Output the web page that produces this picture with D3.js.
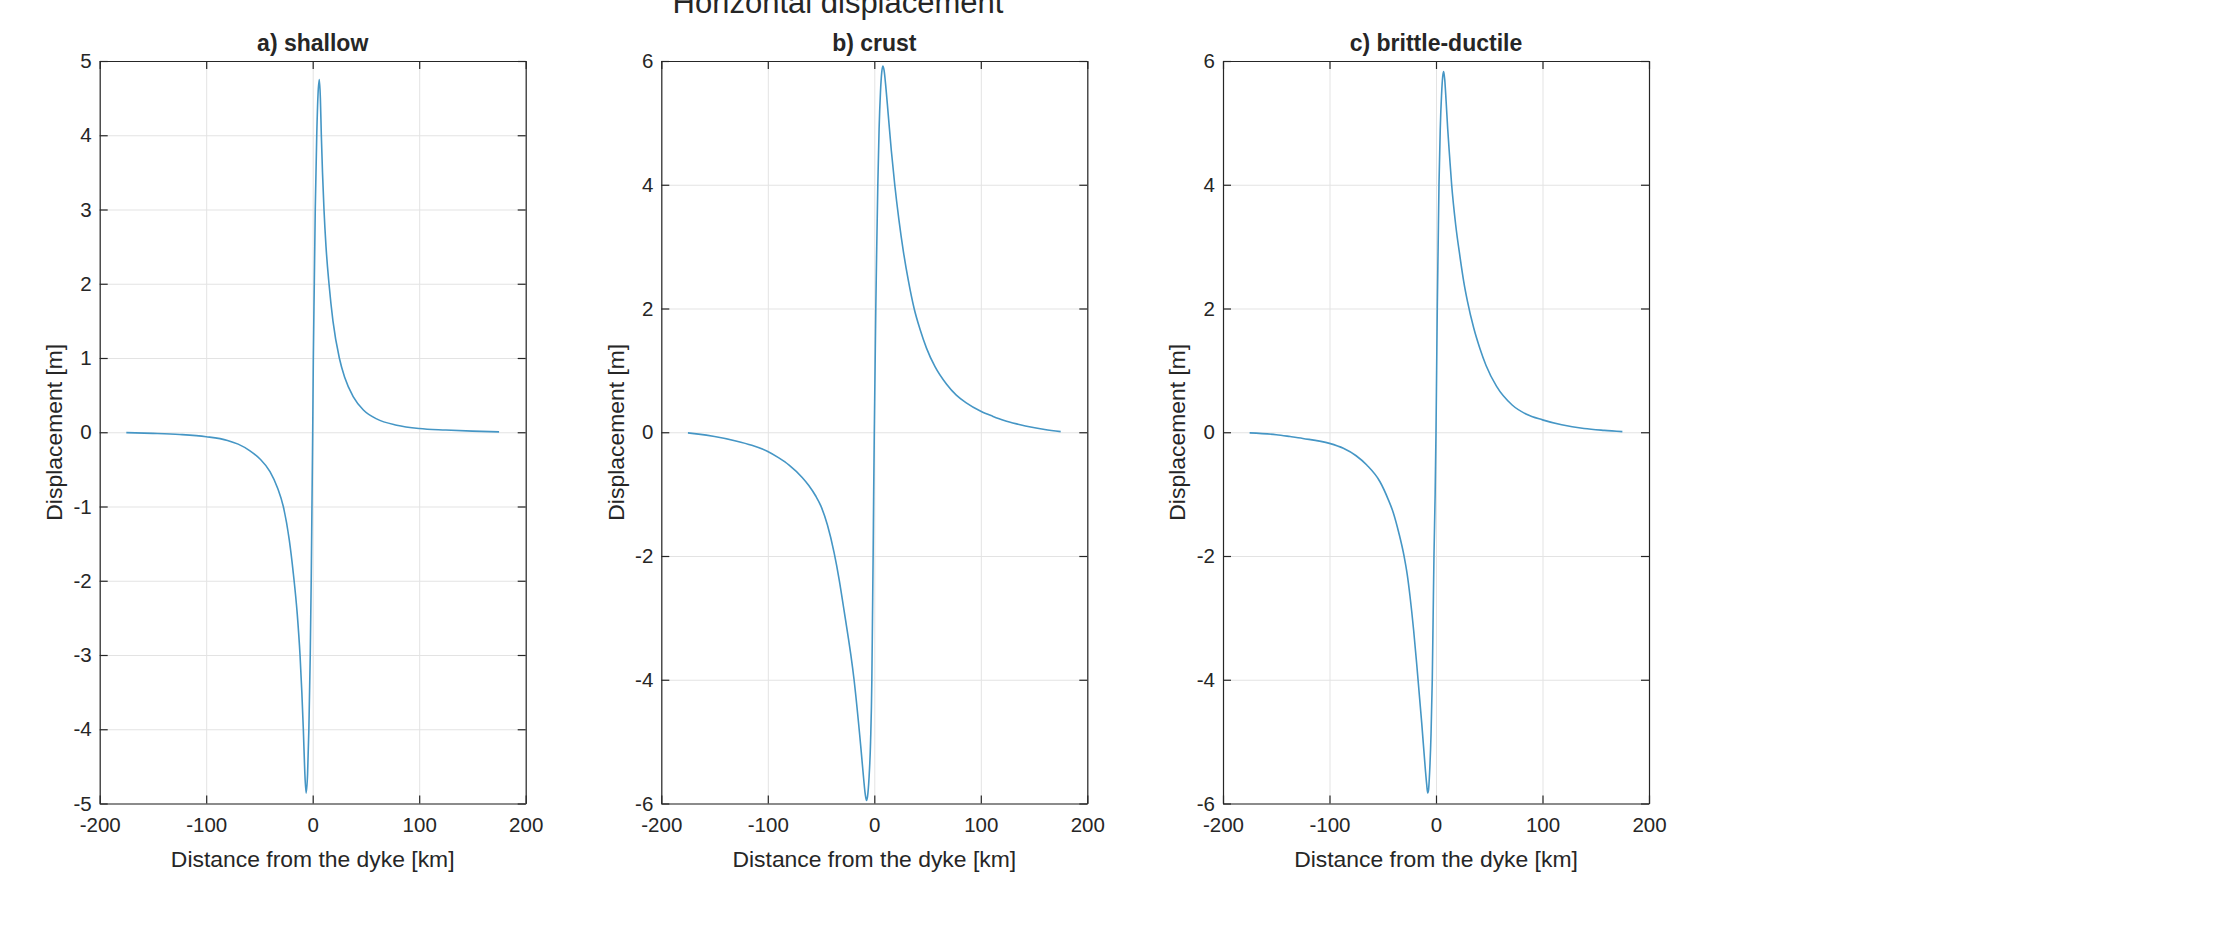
<!DOCTYPE html>
<html>
<head>
<meta charset="utf-8">
<script src="https://cdn.jsdelivr.net/npm/d3@7"></script>
<style>
	body { margin: 0; background: #fff; }
	svg text { font-family: "Liberation Sans", Arial, sans-serif; fill: #262626; }
</style>
</head>
<body>
<script>
const figTitle = "Horizontal displacement";
const panelTitles = ["a) shallow", "b) crust", "c) brittle-ductile"];
const xLabel = "Distance from the dyke [km]";
const yLabel = "Displacement [m]";
const xTicks = [-200, -100, 0, 100, 200];
const yTicksShallow = [-5, -4, -3, -2, -1, 0, 1, 2, 3, 4, 5];
const yTicksDeep = [-6, -4, -2, 0, 2, 4, 6];

// a) shallow : distance [km] / displacement [m]
const shallowDist = [-175, -150, -125, -100, -80, -70, -58.9, -49.5, -40.1, -33, -27.6, -22, -18.2, -14.5, -11.9, -10.2,
	-8.8, -7.5, -6.2, -4.8, -3.6, -2.3, -1.4, -0.7, 0, 0.6, 1.5, 2.4, 3.8, 5, 6.2, 7.2, 8.1, 9.2, 10.6, 12.5,
	15.3, 19, 25, 30, 38, 47.6, 60, 78.9, 100, 125, 150, 175];
const shallowDisp = [-0.005, -0.015, -0.03, -0.06, -0.11, -0.16, -0.25, -0.36, -0.53, -0.75, -1.0, -1.45, -1.9, -2.45, -3.0, -3.5,
	-4.0, -4.55, -4.86, -4.6, -4.0, -3.0, -2.0, -1.0, 0, 1.0, 2.0, 3.0, 4.0, 4.55, 4.75, 4.5, 4.0, 3.5, 3.0, 2.5,
	2.0, 1.5, 1.0, 0.74, 0.48, 0.3, 0.18, 0.095, 0.05, 0.03, 0.015, 0.005];

// b) crust
const crustDist = [-175, -165, -150, -130, -115, -100, -90, -80, -67.7, -61.5, -55, -50.2, -44, -37.7, -33, -28.4, -19, -12.7, -10,
	-8.5, -7.3, -6.3, -5, -3.5, -2.3, -1.7, -1.1, -0.6, 0, 0.7, 1.4, 2.3, 3.3, 4.5, 5.8, 7, 8, 9.2, 11, 13, 16, 19.2, 23,
	27.5, 32, 37.4, 43, 49, 57, 67.7, 77, 86, 100, 111, 122, 135, 148, 160, 175];
const crustDisp = [-0.01, -0.03, -0.07, -0.14, -0.21, -0.31, -0.41, -0.53, -0.73, -0.86, -1.03, -1.19, -1.5, -1.95, -2.38, -2.88, -4.0, -5.08, -5.6,
	-5.85, -5.95, -5.88, -5.6, -5.0, -4.0, -3.0, -2.0, -1.0, 0, 1.0, 2.0, 3.0, 4.0, 4.9, 5.5, 5.82, 5.92, 5.85, 5.55, 5.15, 4.55, 4.0, 3.45,
	2.9, 2.45, 2.0, 1.66, 1.36, 1.06, 0.78, 0.6, 0.48, 0.34, 0.26, 0.19, 0.13, 0.08, 0.045, 0.01];

// c) brittle-ductile
const brittleDist = [-175, -150, -137, -125, -100, -87, -75, -65, -52.6, -45, -40.1, -35, -30, -27, -24.4, -21, -18.1, -13.4, -10,
	-8.8, -7.8, -7, -6, -4.7, -3.5, -2.7, -1.9, -0.8, 0, 0.6, 1.2, 2, 2.8, 4, 5.2, 6.3, 7.2, 8.2, 9.5, 11, 12.8, 14.7, 18.5,
	22.5, 26, 29.5, 35.5, 41.3, 47, 56.9, 71.5, 85, 100, 118, 139, 158, 175];
const brittleDisp = [-0.01, -0.04, -0.07, -0.1, -0.18, -0.26, -0.38, -0.53, -0.8, -1.08, -1.3, -1.62, -2.0, -2.3, -2.65, -3.2, -3.75, -4.7, -5.45,
	-5.68, -5.83, -5.78, -5.5, -4.9, -4.0, -3.0, -2.0, -1.0, 0, 1.0, 2.0, 3.0, 4.0, 4.9, 5.45, 5.75, 5.83, 5.7, 5.35, 4.9, 4.45, 4.0, 3.35,
	2.84, 2.44, 2.12, 1.68, 1.35, 1.08, 0.74, 0.44, 0.29, 0.2, 0.12, 0.06, 0.03, 0.01];

const width = 2226;
const height = 947;
const panelLeft = [99.7, 661.3, 1223];
const panelTop = 61;
const panelW = 426;
const panelH = 742.5;
const axisColor = "#262626";
const lineColor = "#4596c5";

const svg = d3.select("body")
	.append("svg")
	.attr("width", width)
	.attr("height", height);

svg.append("rect")
	.attr("width", width)
	.attr("height", height)
	.attr("fill", "#fff");

//overall title, cut off at the top like the original figure
svg.append("text")
	.attr("x", 838)
	.attr("y", 13)
	.attr("text-anchor", "middle")
	.style("font-size", "31px")
	.text(figTitle);

drawPanel(0, shallowDist, shallowDisp, [-5, 5], yTicksShallow);
drawPanel(1, crustDist, crustDisp, [-6, 6], yTicksDeep);
drawPanel(2, brittleDist, brittleDisp, [-6, 6], yTicksDeep);

/**
 * draw one subplot: grid, curve, boxed axes and labels
 *
 * @param i, index of the panel
 * @param dist, x values (km)
 * @param disp, y values (m)
 * @param yDomain, [min, max] of the y axis
 * @param yTicks, tick values of the y axis
 */
function drawPanel(i, dist, disp, yDomain, yTicks) {
	const g = svg.append("g")
		.attr("transform", "translate(" + panelLeft[i] + "," + panelTop + ")");

	const x = d3.scaleLinear().domain([-200, 200]).range([0, panelW]);
	const y = d3.scaleLinear().domain(yDomain).range([panelH, 0]);

	//grid
	const gx = g.append("g")
		.attr("transform", "translate(0," + panelH + ")")
		.call(d3.axisBottom(x).tickValues(xTicks).tickSize(-panelH).tickFormat(""));
	const gy = g.append("g")
		.call(d3.axisLeft(y).tickValues(yTicks).tickSize(-panelW).tickFormat(""));
	[gx, gy].forEach(function(a) {
		a.select(".domain").remove();
		a.selectAll("line").attr("stroke", "#e3e3e3").attr("stroke-width", 1);
	});

	//curve
	const line = d3.line()
		.x(function(d) { return x(d[0]); })
		.y(function(d) { return y(d[1]); })
		.curve(d3.curveMonotoneX);

	g.append("path")
		.datum(d3.zip(dist, disp))
		.attr("fill", "none")
		.attr("stroke", lineColor)
		.attr("stroke-width", 1.6)
		.attr("d", line);

	//boxed axes with inward ticks
	const fmt = function(d) { return String(d); };
	const axes = [
		[d3.axisBottom(x).tickValues(xTicks).tickPadding(14).tickFormat(fmt), "translate(0," + panelH + ")"],
		[d3.axisTop(x).tickValues(xTicks).tickFormat(""), null],
		[d3.axisLeft(y).tickValues(yTicks).tickPadding(8).tickFormat(fmt), null],
		[d3.axisRight(y).tickValues(yTicks).tickFormat(""), "translate(" + panelW + ",0)"]
	];
	axes.forEach(function(a) {
		const ag = g.append("g")
			.attr("color", axisColor)
			.attr("transform", a[1])
			.call(a[0].tickSizeInner(-8).tickSizeOuter(0));
		ag.selectAll("path, line").attr("stroke-width", 1.2);
		ag.selectAll("text").style("font-size", "20.5px").attr("fill", axisColor);
	});

	//title
	g.append("text")
		.attr("x", panelW / 2)
		.attr("y", -10)
		.attr("text-anchor", "middle")
		.style("font-size", "23px")
		.style("font-weight", "bold")
		.text(panelTitles[i]);

	//axis labels
	g.append("text")
		.attr("x", panelW / 2)
		.attr("y", panelH + 63.5)
		.attr("text-anchor", "middle")
		.style("font-size", "22.9px")
		.text(xLabel);

	g.append("text")
		.attr("transform", "translate(-45.7," + panelH / 2 + ") rotate(-90)")
		.attr("dy", "0.35em")
		.attr("text-anchor", "middle")
		.style("font-size", "22.9px")
		.text(yLabel);
}
</script>
</body>
</html>
